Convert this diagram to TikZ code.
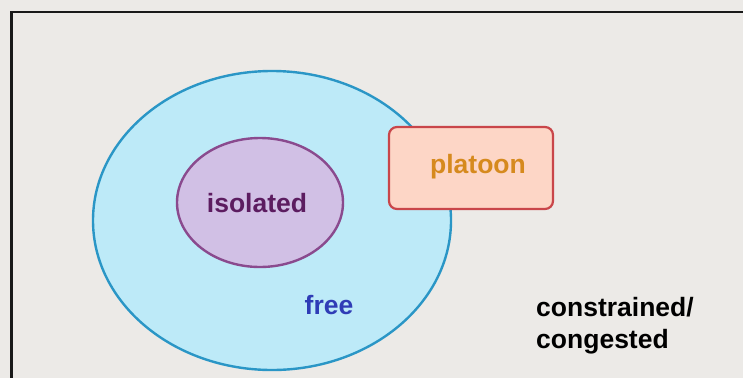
\documentclass[tikz,border=0pt]{standalone}
\usepackage{fontspec}
\setmainfont{Liberation Sans}
\usetikzlibrary{shapes.geometric}
\definecolor{bgcol}{HTML}{ECEAE7}
\definecolor{freefill}{HTML}{BDEAF8}
\definecolor{freeline}{HTML}{2A96C6}
\definecolor{isofill}{HTML}{D1C0E5}
\definecolor{isoline}{HTML}{8A4A8E}
\definecolor{isotext}{HTML}{5C1C60}
\definecolor{platfill}{HTML}{FDD6C6}
\definecolor{platline}{HTML}{C9464A}
\definecolor{plattext}{HTML}{D68A1E}
\definecolor{freetext}{HTML}{2F3CB6}
\tikzset{
  lbl/.style={font=\fontsize{26.5}{32}\selectfont\bfseries, inner sep=0pt},
  region/.style={ellipse, line width=2.4pt, inner sep=0pt, outer sep=0pt}
}
\begin{document}
\begin{tikzpicture}[x=1pt,y=-1pt]
\useasboundingbox (0,0) rectangle (743,378);
\fill[bgcol] (0,0) rectangle (743,378);
\fill[black!90] (10,10.5) rectangle (743,13);
\fill[black!90] (10,10.5) rectangle (12.5,378);
\node[region, draw=freeline, fill=freefill, minimum width=358pt, minimum height=299pt] (freeR) at (272,220.5) {};
\node[region, draw=isoline, fill=isofill, minimum width=166pt, minimum height=129pt] (isoR) at (260,202.5) {};
\node[draw=platline, fill=platfill, line width=2.2pt, rounded corners=8pt, minimum width=164pt, minimum height=82pt, inner sep=0pt] (platR) at (471,168) {};
\node[lbl, text=isotext, anchor=base] (isoT) at (257,212) {isolated};
\node[lbl, text=freetext, anchor=base] (freeT) at (329,314) {free};
\node[lbl, text=plattext, anchor=base] (platT) at (478,173) {platoon};
\node[lbl, text=black, anchor=base west] (conT1) at (536,316) {constrained/};
\node[lbl, text=black, anchor=base west] (conT2) at (536,348) {congested};
\end{tikzpicture}
\end{document}
